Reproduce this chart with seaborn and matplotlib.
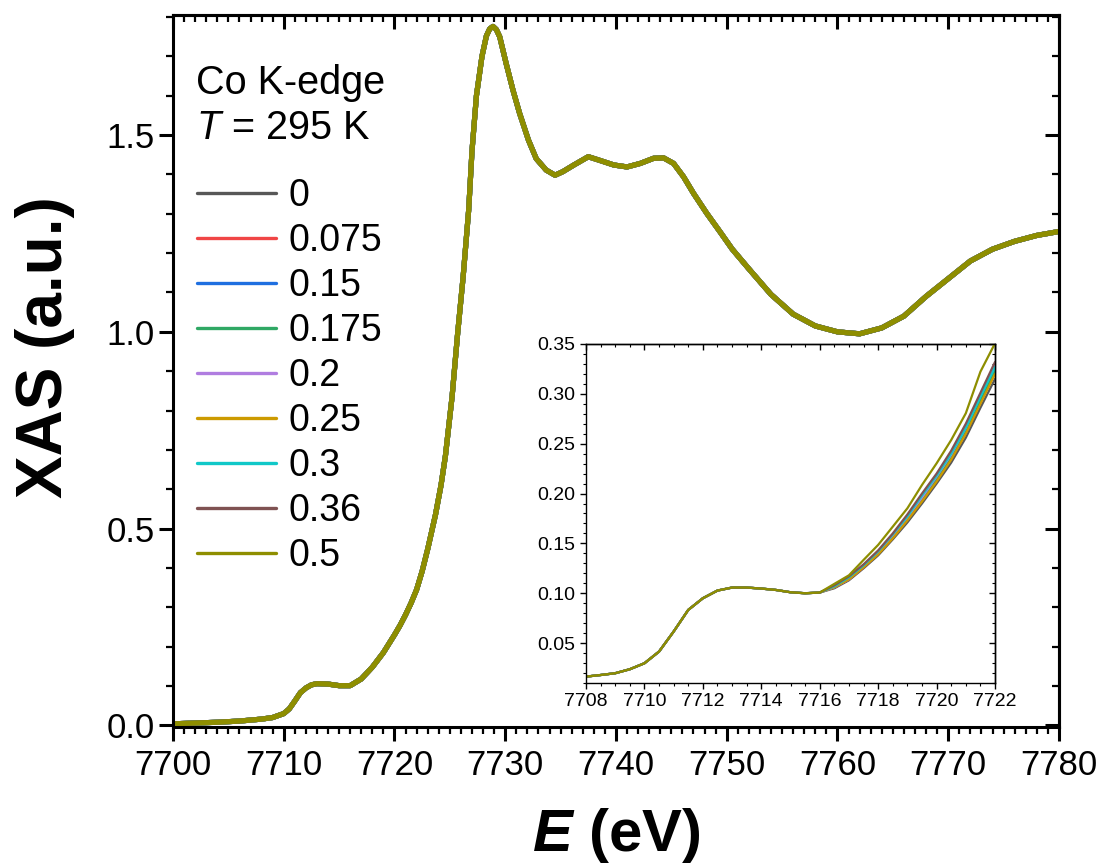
import numpy as np
import pandas as pd
import matplotlib
matplotlib.use("Agg")
import matplotlib.pyplot as plt
import seaborn as sns
from matplotlib.ticker import MultipleLocator, FormatStrFormatter

# ---------------- data ----------------
doping_labels = ["0", "0.075", "0.15", "0.175", "0.2", "0.25", "0.3", "0.36", "0.5"]
line_colors = ["#575757", "#f04545", "#1f6fe0", "#2fa864", "#b07de0",
               "#cc9a00", "#10c8c8", "#7f5252", "#8e8e00"]

energy_main = [7700, 7702, 7704, 7706, 7708, 7709, 7710, 7710.5, 7711, 7711.5,
               7712, 7712.5, 7713, 7714, 7715, 7716, 7717, 7718, 7719, 7720,
               7720.5, 7721, 7721.5, 7722, 7722.5, 7723, 7723.7, 7724.2, 7724.6, 7725.2,
               7725.7, 7726.2, 7726.7, 7727.0, 7727.4, 7727.9, 7728.3, 7728.6, 7728.9, 7729.2,
               7729.5, 7730.1, 7730.7, 7731.3, 7732.1, 7732.8, 7733.7, 7734.5, 7735.2, 7736.2,
               7737.5, 7738.5, 7739.8, 7741.0, 7742.2, 7743.4, 7744.3, 7745.2, 7746.1, 7747.0,
               7748.2, 7749.4, 7750.5, 7752, 7754, 7756, 7758, 7760, 7762, 7764,
               7766, 7768, 7770, 7772, 7774, 7776, 7778, 7780]
xas_main = [0.004, 0.006, 0.008, 0.011, 0.016, 0.020, 0.030, 0.042, 0.062, 0.083,
            0.095, 0.103, 0.106, 0.105, 0.101, 0.101, 0.118, 0.148, 0.185, 0.230,
            0.254, 0.281, 0.311, 0.345, 0.392, 0.448, 0.535, 0.610, 0.685, 0.835,
            0.995, 1.14, 1.31, 1.46, 1.60, 1.70, 1.752, 1.770, 1.776, 1.768,
            1.750, 1.68, 1.614, 1.555, 1.487, 1.44, 1.411, 1.398, 1.407, 1.424,
            1.445, 1.436, 1.424, 1.419, 1.428, 1.441, 1.442, 1.428, 1.394, 1.352,
            1.301, 1.254, 1.21, 1.16, 1.095, 1.045, 1.015, 1.0, 0.995, 1.01,
            1.04, 1.09, 1.135, 1.18, 1.21, 1.23, 1.245, 1.255]

energy_inset = [7708, 7708.5, 7709, 7709.5, 7710, 7710.5, 7711, 7711.5, 7712, 7712.5,
                7713, 7713.5, 7714, 7714.5, 7715, 7715.5, 7716, 7716.5, 7717, 7717.5,
                7718, 7718.5, 7719, 7719.5, 7720, 7720.5, 7721, 7721.5, 7722]
# pre-edge part (7708 - 7716), shared by all samples
inset_pre_edge = [0.0164, 0.018, 0.0198, 0.0238, 0.0298, 0.0415, 0.0616, 0.0833, 0.095, 0.1027,
                  0.1057, 0.1057, 0.1047, 0.1033, 0.101, 0.100, 0.1007]
# rising part (7716.5 - 7722) per sample
tail_0 = [0.105, 0.113, 0.125, 0.138, 0.154, 0.171, 0.190, 0.210, 0.231, 0.256, 0.286, 0.315]
tail_0075 = [0.106, 0.114, 0.126, 0.140, 0.156, 0.174, 0.193, 0.213, 0.235, 0.261, 0.292, 0.322]
tail_015 = [0.106, 0.115, 0.127, 0.141, 0.158, 0.176, 0.196, 0.216, 0.238, 0.264, 0.296, 0.325]
tail_0175 = [0.107, 0.115, 0.127, 0.140, 0.157, 0.175, 0.195, 0.214, 0.236, 0.262, 0.293, 0.323]
tail_02 = [0.106, 0.114, 0.127, 0.141, 0.158, 0.176, 0.196, 0.217, 0.239, 0.266, 0.298, 0.328]
tail_025 = [0.106, 0.114, 0.126, 0.139, 0.155, 0.173, 0.192, 0.212, 0.234, 0.260, 0.290, 0.320]
tail_03 = [0.107, 0.116, 0.128, 0.142, 0.159, 0.177, 0.198, 0.218, 0.240, 0.266, 0.297, 0.327]
tail_036 = [0.108, 0.117, 0.129, 0.143, 0.160, 0.179, 0.200, 0.220, 0.243, 0.270, 0.301, 0.332]
tail_05 = [0.1094, 0.118, 0.1334, 0.1485, 0.1668, 0.1852, 0.2086, 0.2303, 0.2537, 0.2805, 0.3222, 0.3507]
inset_tails = [tail_0, tail_0075, tail_015, tail_0175, tail_02, tail_025, tail_03, tail_036, tail_05]

# ---------------- tidy frames ----------------
main_df = pd.concat([pd.DataFrame({"E": energy_main, "XAS": xas_main, "x": lab})
                     for lab in doping_labels], ignore_index=True)
inset_df = pd.concat([pd.DataFrame({"E": energy_inset, "XAS": inset_pre_edge + tail, "x": lab})
                      for lab, tail in zip(doping_labels, inset_tails)], ignore_index=True)

# ---------------- style ----------------
sns.set_style("ticks")
plt.rcParams["font.family"] = ["Liberation Sans", "DejaVu Sans"]
plt.rcParams["mathtext.fontset"] = "custom"
plt.rcParams["mathtext.rm"] = "Liberation Sans"
plt.rcParams["mathtext.it"] = "Liberation Sans:italic"
plt.rcParams["mathtext.bf"] = "Liberation Sans:bold"
plt.rcParams["mathtext.bfit"] = "Liberation Sans:italic:bold"
for key in ["text.color", "axes.labelcolor", "xtick.color", "ytick.color", "axes.edgecolor"]:
    plt.rcParams[key] = "black"

fig = plt.figure(figsize=(11.04, 8.64), dpi=100)
ax = fig.add_axes([0.1567, 0.1586, 0.8025, 0.824])

sns.lineplot(data=main_df, x="E", y="XAS", hue="x", hue_order=doping_labels,
             palette=line_colors, linewidth=3.7, estimator=None, sort=False, ax=ax)

ax.set_xlim(7700, 7780)
ax.set_ylim(-0.004, 1.805)
ax.xaxis.set_major_locator(MultipleLocator(10))
ax.xaxis.set_minor_locator(MultipleLocator(1))
ax.yaxis.set_major_locator(MultipleLocator(0.5))
ax.yaxis.set_minor_locator(MultipleLocator(0.1))
ax.yaxis.set_major_formatter(FormatStrFormatter("%.1f"))
for s in ax.spines.values():
    s.set_visible(True)
    s.set_linewidth(2.2)
    s.set_color("black")
ax.tick_params(which="major", direction="out", length=10, width=2.2, labelsize=25,
               colors="black")
ax.tick_params(which="minor", direction="out", length=5, width=1.6, colors="black")
ax.tick_params(axis="x", which="major", pad=6)
ax.tick_params(axis="y", which="major", pad=3)

secx = ax.secondary_xaxis("top")
secx.xaxis.set_major_locator(MultipleLocator(10))
secx.xaxis.set_minor_locator(MultipleLocator(1))
secx.tick_params(which="major", direction="in", length=10, width=2.2, labeltop=False)
secx.tick_params(which="minor", direction="in", length=5, width=1.6)
secy = ax.secondary_yaxis("right")
secy.yaxis.set_major_locator(MultipleLocator(0.5))
secy.yaxis.set_minor_locator(MultipleLocator(0.1))
secy.tick_params(which="major", direction="in", length=10, width=2.2, labelright=False)
secy.tick_params(which="minor", direction="in", length=5, width=1.6)
for sec in (secx, secy):
    for s in sec.spines.values():
        s.set_linewidth(2.2)

ax.set_xlabel(r"$\mathbfit{E}$ (eV)", fontsize=43, fontweight="bold", labelpad=17)
ax.set_ylabel("XAS (a.u.)", fontsize=46, fontweight="bold")
ax.yaxis.set_label_coords(-0.111, 0.534)

leg_old = ax.get_legend()
handles = leg_old.legend_handles
labels = [t.get_text() for t in leg_old.get_texts()]
leg = ax.legend(handles, labels, loc="upper left", bbox_to_anchor=(0.027, 0.771),
                frameon=False, fontsize=27, handlelength=2.1, handletextpad=0.33,
                labelspacing=0.24, borderpad=0, borderaxespad=0)
for h in leg.get_lines():
    h.set_linewidth(2.4)

ax.text(0.026, 0.905, "Co K-edge", transform=ax.transAxes, fontsize=28.5,
        ha="left", va="center")
ax.text(0.026, 0.842, r"$\mathit{T}$ = 295 K", transform=ax.transAxes, fontsize=28.5,
        ha="left", va="center")

# ---------------- inset ----------------
axin = fig.add_axes([0.5308, 0.2095, 0.3705, 0.3924])
axin.set_facecolor("white")
sns.lineplot(data=inset_df, x="E", y="XAS", hue="x", hue_order=doping_labels,
             palette=line_colors, linewidth=1.6, estimator=None, sort=False,
             legend=False, ax=axin)
axin.set_xlim(7708, 7722)
axin.set_ylim(0.01, 0.35)
axin.set_xlabel("")
axin.set_ylabel("")
axin.xaxis.set_major_locator(MultipleLocator(2))
axin.xaxis.set_minor_locator(MultipleLocator(0.5))
axin.yaxis.set_major_locator(MultipleLocator(0.05))
axin.yaxis.set_minor_locator(MultipleLocator(0.01))
axin.yaxis.set_major_formatter(FormatStrFormatter("%.2f"))
for s in axin.spines.values():
    s.set_visible(True)
    s.set_linewidth(1.0)
    s.set_color("black")
axin.tick_params(which="major", direction="out", length=4.5, width=1.0, labelsize=14,
                 colors="black", pad=3)
axin.tick_params(which="minor", direction="out", length=2.5, width=0.8, colors="black")
isx = axin.secondary_xaxis("top")
isx.xaxis.set_major_locator(MultipleLocator(2))
isx.xaxis.set_minor_locator(MultipleLocator(0.5))
isx.tick_params(which="major", direction="in", length=4.5, width=1.0, labeltop=False)
isx.tick_params(which="minor", direction="in", length=2.5, width=0.8)
isy = axin.secondary_yaxis("right")
isy.yaxis.set_major_locator(MultipleLocator(0.05))
isy.yaxis.set_minor_locator(MultipleLocator(0.01))
isy.tick_params(which="major", direction="in", length=4.5, width=1.0, labelright=False)
isy.tick_params(which="minor", direction="in", length=2.5, width=0.8)
for sec in (isx, isy):
    for s in sec.spines.values():
        s.set_linewidth(1.0)

fig.savefig("out.png", dpi=100)
